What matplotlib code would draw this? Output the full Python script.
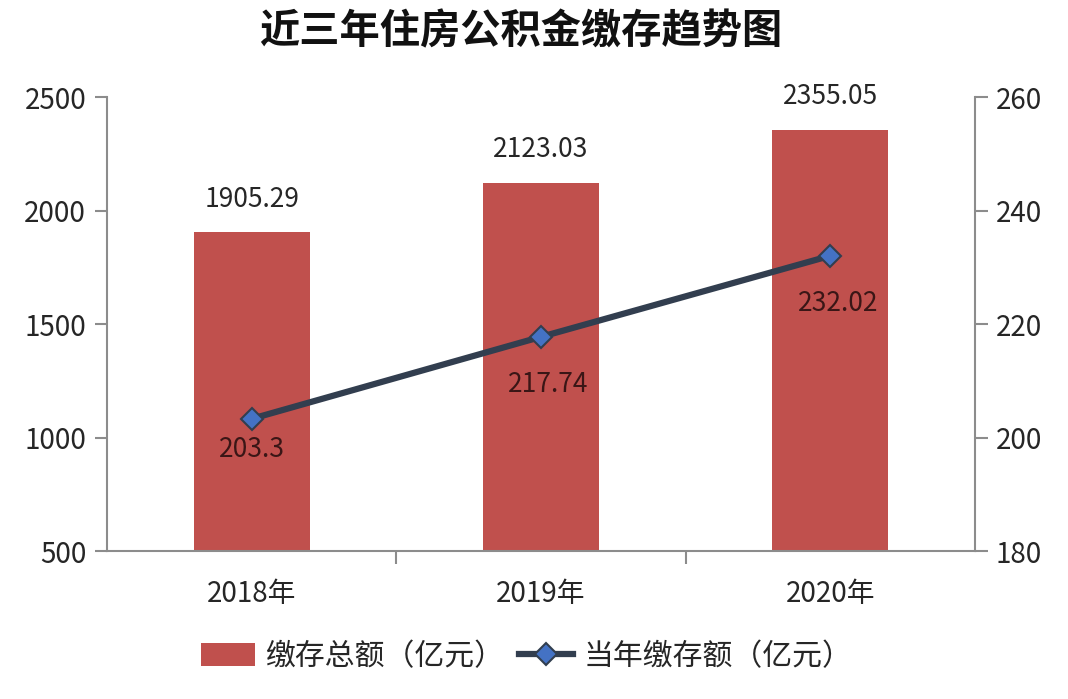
import matplotlib
matplotlib.use("Agg")
import matplotlib.pyplot as plt
from matplotlib.lines import Line2D
from matplotlib.patches import Patch

plt.rcParams['font.family'] = ['Noto Sans CJK SC', 'DejaVu Sans']

categories = ["2018年", "2019年", "2020年"]
total_deposit = [1905.29, 2123.03, 2355.05]
annual_deposit = [203.3, 217.74, 232.02]
left_ticks = [500, 1000, 1500, 2000, 2500]
right_ticks = [180, 200, 220, 240, 260]
title = "近三年住房公积金缴存趋势图"
bar_label = "缴存总额（亿元）"
line_label = "当年缴存额（亿元）"

bar_color = "#C0504D"
line_color = "#323E4F"
marker_color = "#4472C4"
axis_color = "#8C8C8C"
text_color = "#262626"
inner_label_color = "#3A1616"
line_label_offsets = [(0, -22), (5, -34), (6, -34)]

fig = plt.figure(figsize=(10.68, 6.99), dpi=100)
ax = fig.add_axes([0.1002, 0.2117, 0.8127, 0.6495])
x = list(range(len(categories)))
ax.bar(x, total_deposit, width=0.4, color=bar_color, zorder=2)
ax.set_ylim(500, 2500)
ax.set_xlim(-0.5, 2.5)
ax.set_yticks(left_ticks)
ax.set_xticks(x)
ax.set_xticklabels(categories)
for xi, v in zip(x, total_deposit):
    ax.annotate(f"{v:.2f}", (xi, v), xytext=(0, 14), textcoords="offset points",
                ha="center", va="bottom", fontsize=19, color=text_color)

ax2 = ax.twinx()
ax2.set_ylim(180, 260)
ax2.set_yticks(right_ticks)
ax2.plot(x, annual_deposit, color=line_color, linewidth=4.5, marker="D",
         markersize=11, markerfacecolor=marker_color, markeredgecolor=line_color,
         markeredgewidth=1.5, zorder=3)
for xi, v, off in zip(x, annual_deposit, line_label_offsets):
    ax2.annotate(f"{v:g}", (xi, v), xytext=off, textcoords="offset points",
                 ha="center", va="center", fontsize=19, color=inner_label_color)

for a in (ax, ax2):
    a.spines["top"].set_visible(False)
    for s in ("left", "right", "bottom"):
        a.spines[s].set_color(axis_color)
        a.spines[s].set_linewidth(1.5)
ax.spines["right"].set_visible(False)
ax2.spines["left"].set_visible(False)
ax2.spines["bottom"].set_visible(False)

ax.tick_params(axis="y", direction="out", length=9, width=1.5, color=axis_color,
               labelsize=20, labelcolor=text_color, pad=6)
ax2.tick_params(axis="y", direction="out", length=9, width=1.5, color=axis_color,
                labelsize=20, labelcolor=text_color, pad=6)
ax.tick_params(axis="x", length=0, labelsize=20, labelcolor=text_color, pad=20)
ax.set_xticks([0.5, 1.5], minor=True)
ax.tick_params(axis="x", which="minor", direction="out", length=9, width=1.5, color=axis_color)

fig.text(0.488, 0.955, title, ha="center", va="center", fontsize=29,
         fontweight="bold", color="#111111")

handles = [Patch(facecolor=bar_color, edgecolor="none"),
           Line2D([0], [0], color=line_color, linewidth=4.5, marker="D", markersize=11,
                  markerfacecolor=marker_color, markeredgecolor=line_color,
                  markeredgewidth=1.5)]
fig.legend(handles, [bar_label, line_label], loc="center", bbox_to_anchor=(0.493, 0.061),
           ncol=2, frameon=False, fontsize=21.5, handlelength=1.8, handleheight=0.8,
           columnspacing=0.5, handletextpad=0.35, labelcolor=text_color)

fig.savefig("out.png", dpi=100)
